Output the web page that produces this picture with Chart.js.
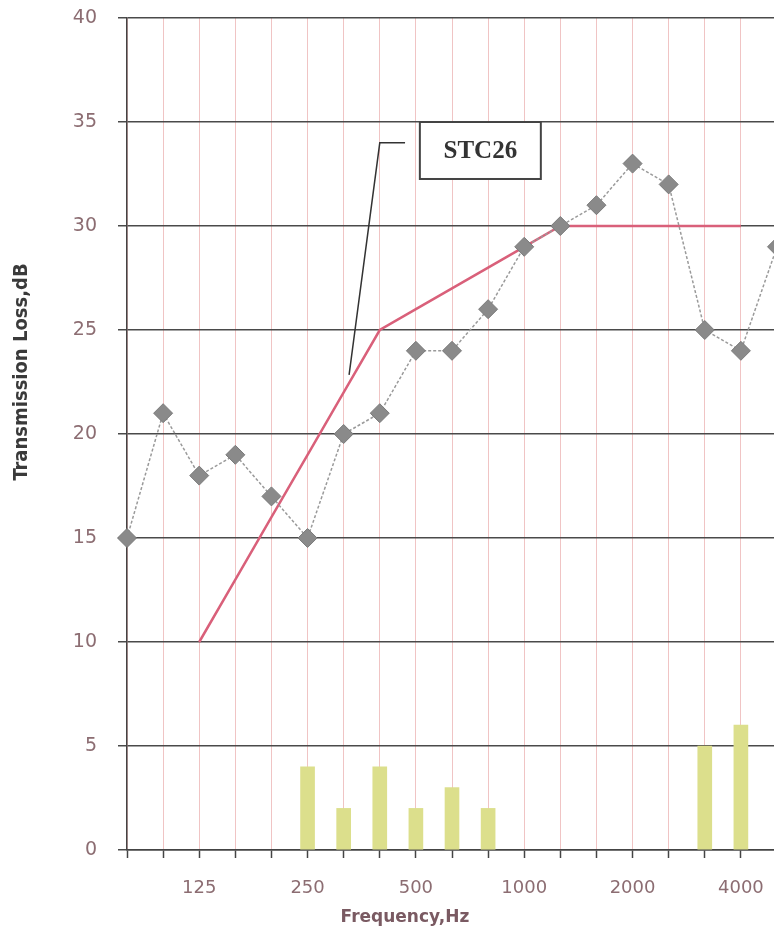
<!DOCTYPE html>
<html>
<head>
<meta charset="utf-8">
<script src="https://cdn.jsdelivr.net/npm/chart.js@4/dist/chart.umd.min.js"></script>
<style>
  html, body { margin: 0; padding: 0; background: #fff; overflow: hidden; }
  #wrap { width: 810px; height: 935px; }
</style>
</head>
<body>
<div id="wrap"><canvas id="c" width="810" height="935"></canvas></div>
<script>
// One-third octave band centre frequencies (Hz)
const frequencies = ['80', '100', '125', '160', '200', '250', '315', '400', '500', '630',
                     '800', '1000', '1250', '1600', '2000', '2500', '3150', '4000', '5000'];
// Bands that carry a printed label on the frequency axis
const labelledBands = ['125', '250', '500', '1000', '2000', '4000'];
// Measured transmission loss (dB)
const measuredTL = [15, 21, 18, 19, 17, 15, 20, 21, 24, 24, 26, 29, 30, 31, 33, 32, 25, 24, 29];
// STC 26 reference contour (dB), 125 Hz to 4000 Hz
const stcContour = [null, null, 10, 13, 16, 19, 22, 25, 26, 27, 28, 29, 30, 30, 30, 30, 30, 30, null];
// Deficiencies below the contour (dB)
const deficiencies = [null, null, null, null, null, 4, 2, 4, 2, 3, 2, null, null, null, null, null, 5, 6, null];
// Y axis range
const yMin = 0, yMax = 40, yStep = 5;

const tickColor = '#8c6d72';

// Contour label box with its leader line, placed in data units
const contourLabel = {
  text: 'STC26',
  box: { x0: 8.11, x1: 11.46, y0: 35, y1: 32.26 },
  leader: [[6.15, 22.84], [7.0, 34.0], [7.7, 34.0]]
};

const annotations = {
  id: 'annotations',
  afterDatasetsDraw(chart) {
    const { ctx, scales: { x, y } } = chart;
    ctx.save();
    // leader line
    ctx.strokeStyle = '#333';
    ctx.lineWidth = 1.5;
    ctx.beginPath();
    contourLabel.leader.forEach(([px, py], i) => {
      const X = x.getPixelForValue(px), Y = y.getPixelForValue(py);
      if (i === 0) ctx.moveTo(X, Y); else ctx.lineTo(X, Y);
    });
    ctx.stroke();
    // label box
    const bx0 = x.getPixelForValue(contourLabel.box.x0);
    const bx1 = x.getPixelForValue(contourLabel.box.x1);
    const by0 = y.getPixelForValue(contourLabel.box.y0);
    const by1 = y.getPixelForValue(contourLabel.box.y1);
    ctx.fillStyle = '#fff';
    ctx.fillRect(bx0, by0, bx1 - bx0, by1 - by0);
    ctx.lineWidth = 2;
    ctx.strokeStyle = '#444';
    ctx.strokeRect(bx0, by0, bx1 - bx0, by1 - by0);
    ctx.fillStyle = '#333';
    ctx.font = 'bold 25px "Liberation Serif", "Times New Roman", serif';
    ctx.textAlign = 'center';
    ctx.textBaseline = 'middle';
    ctx.fillText(contourLabel.text, (bx0 + bx1) / 2, (by0 + by1) / 2 + 1);
    ctx.restore();
  },
  afterDraw(chart) {
    const { ctx } = chart;
    ctx.save();
    // y axis title
    ctx.translate(22, 372);
    ctx.rotate(-Math.PI / 2);
    ctx.fillStyle = '#3a3a3a';
    ctx.font = 'bold 20px "Liberation Sans Narrow", "Arial Narrow", "DejaVu Sans Condensed", sans-serif';
    ctx.textAlign = 'center';
    ctx.textBaseline = 'middle';
    ctx.fillText('Transmission Loss,dB', 0, 0);
    ctx.restore();
    // x axis title
    ctx.save();
    ctx.fillStyle = '#7a5a62';
    ctx.font = 'bold 17px "DejaVu Sans", Verdana, sans-serif';
    ctx.textAlign = 'center';
    ctx.textBaseline = 'middle';
    ctx.fillText('Frequency,Hz', 405, 918);
    ctx.restore();
  }
};

new Chart(document.getElementById('c'), {
  type: 'bar',
  data: {
    labels: frequencies,
    datasets: [
      {
        type: 'line',
        label: 'Measured',
        data: measuredTL,
        order: 1,
        borderColor: '#9a9a9a',
        borderWidth: 1.5,
        borderDash: [3, 2],
        pointStyle: 'rectRot',
        pointRadius: 9.5,
        pointBackgroundColor: '#8a8a8a',
        pointBorderColor: '#7a7a7a',
        pointBorderWidth: 1,
        tension: 0
      },
      {
        type: 'line',
        label: 'STC 26',
        data: stcContour,
        order: 2,
        borderColor: '#d9607a',
        borderWidth: 2.5,
        pointRadius: 0,
        spanGaps: false,
        tension: 0
      },
      {
        type: 'bar',
        label: 'Deficiency',
        data: deficiencies,
        order: 3,
        backgroundColor: '#dcdf8c',
        barThickness: 14
      }
    ]
  },
  options: {
    responsive: false,
    animation: false,
    layout: { padding: { left: 0, right: 33, top: 18, bottom: 0 } },
    plugins: { legend: { display: false }, tooltip: { enabled: false } },
    scales: {
      x: {
        offset: false,
        grid: { offset: false, color: '#f0c4c4', lineWidth: 1, tickColor: '#444', tickLength: 8, tickWidth: 1.5 },
        border: { color: '#444', width: 1.5 },
        ticks: {
          autoSkip: false,
          maxRotation: 0,
          padding: 20,
          color: tickColor,
          font: { family: '"DejaVu Sans", Verdana, sans-serif', size: 18 },
          callback(v) {
            const f = frequencies[v];
            return labelledBands.includes(f) ? f : '';
          }
        },
        afterFit(scale) {
          scale.height = 85;
          scale.paddingLeft = 0;
          scale.paddingRight = 0;
        }
      },
      y: {
        min: yMin, max: yMax,
        grid: { color: '#4a4a4a', lineWidth: 1.5, tickColor: '#4a4a4a', tickLength: 9 },
        border: { color: '#444', width: 1.5 },
        ticks: {
          stepSize: yStep,
          padding: 21,
          color: tickColor,
          font: { family: '"DejaVu Sans", Verdana, sans-serif', size: 19 }
        },
        afterFit(scale) {
          scale.width = 127;
          scale.paddingTop = 0;
          scale.paddingBottom = 0;
        }
      }
    }
  },
  plugins: [annotations]
});
</script>
</body>
</html>
